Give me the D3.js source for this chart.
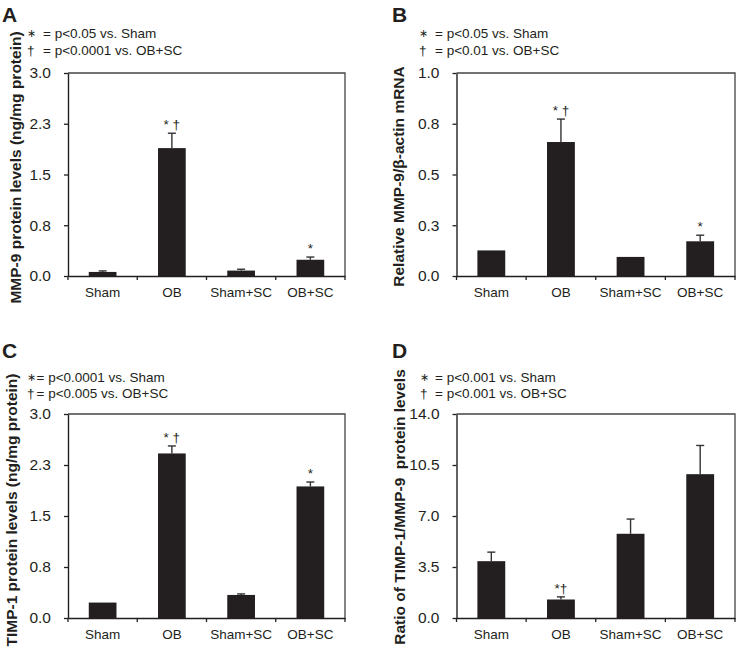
<!DOCTYPE html>
<html>
<head>
<meta charset="utf-8">
<script src="https://cdn.jsdelivr.net/npm/d3@7"></script>
<style>
  body { margin: 0; background: #fff; }
  svg { font-family: "Liberation Sans", Arial, sans-serif; }
</style>
</head>
<body>
<svg id="chart" width="736" height="649"></svg>
<script>
// groups on the x axis
const categories = ["Sham", "OB", "Sham+SC", "OB+SC"]

// A: MMP-9 protein
const mmp9Protein = [0.06, 1.89, 0.08, 0.24]
const mmp9ProteinErr = [0.015, 0.22, 0.02, 0.04]
const mmp9ProteinTicks = [0, 0.75, 1.5, 2.25, 3.0]
const mmp9ProteinMarks = ["", "* \u2020", "", "*"]
const mmp9ProteinLegend = ["= p<0.05 vs. Sham", "= p<0.0001 vs. OB+SC"]

// B: MMP-9 mRNA
const mmp9Mrna = [0.126, 0.66, 0.094, 0.171]
const mmp9MrnaErr = [0, 0.113, 0, 0.03]
const mmp9MrnaTicks = [0, 0.25, 0.5, 0.75, 1.0]
const mmp9MrnaMarks = ["", "* \u2020", "", "*"]
const mmp9MrnaLegend = ["= p<0.05 vs. Sham", "= p<0.01 vs. OB+SC"]

// C: TIMP-1 protein
const timp1Protein = [0.227, 2.42, 0.339, 1.935]
const timp1ProteinErr = [0, 0.11, 0.015, 0.065]
const timp1ProteinTicks = [0, 0.75, 1.5, 2.25, 3.0]
const timp1ProteinMarks = ["", "* \u2020", "", "*"]
const timp1ProteinLegend = ["= p<0.0001 vs. Sham", "= p<0.005 vs. OB+SC"]

// D: TIMP-1 / MMP-9 ratio
const ratio = [3.9, 1.27, 5.78, 9.87]
const ratioErr = [0.62, 0.18, 1.01, 1.97]
const ratioTicks = [0, 3.5, 7, 10.5, 14]
const ratioMarks = ["", "*\u2020", "", ""]
const ratioLegend = ["= p<0.001 vs. Sham", "= p<0.001 vs. OB+SC"]

const svg = d3.select("#chart")
const ink = "#231f20"

function translate(x, y) {
    return "translate(" + x + "," + y + ")"
}

function drawPanel(p) {
    var x = d3.scaleBand().domain(categories).range([p.left, p.right]).padding(0)
    var y = d3.scaleLinear().domain([0, p.ticks[p.ticks.length - 1]]).range([p.bottom, p.top])
    var g = svg.append("g")

    // panel letter
    g.append("text")
        .attr("x", p.letterX).attr("y", p.letterY)
        .attr("font-size", 21).attr("font-weight", "bold").attr("fill", ink)
        .text(p.letter)

    // legend lines
    p.legend.forEach((t, i) => {
        var ly = p.legendY + i * 16.7
        g.append("text")
            .attr("x", p.symX).attr("y", ly - (i == 0 ? 1 : 0))
            .attr("font-size", i == 0 ? 11 : 13.5).attr("fill", ink)
            .text(i == 0 ? "\u2217" : "\u2020")
        g.append("text")
            .attr("x", p.eqX).attr("y", ly)
            .attr("font-size", 13.5).attr("fill", ink)
            .text(t)
    })

    // frame top + right
    g.append("path")
        .attr("d", "M" + p.left + "," + p.top + "H" + p.right + "V" + p.bottom)
        .attr("fill", "none").attr("stroke", "#444").attr("stroke-width", 1.3)

    // bars
    var bw = x.bandwidth() * 0.4
    g.selectAll(".bar").data(p.values).enter().append("rect")
        .attr("x", (d, i) => x(categories[i]) + (x.bandwidth() - bw) / 2)
        .attr("y", d => y(d))
        .attr("width", bw)
        .attr("height", d => y(0) - y(d))
        .attr("fill", ink)

    // error bars (upper only)
    p.values.forEach((v, i) => {
        if (!p.errors[i]) return
        var cx = x(categories[i]) + x.bandwidth() / 2
        var e = g.append("g").attr("stroke", "#333").attr("stroke-width", 1.4)
        e.append("line").attr("x1", cx).attr("x2", cx).attr("y1", y(v)).attr("y2", y(v + p.errors[i]))
        e.append("line").attr("x1", cx - 4).attr("x2", cx + 4)
            .attr("y1", y(v + p.errors[i])).attr("y2", y(v + p.errors[i]))
    })

    // significance marks
    p.values.forEach((v, i) => {
        if (!p.marks[i]) return
        var cx = x(categories[i]) + x.bandwidth() / 2
        g.append("text")
            .attr("x", cx).attr("y", y(v + p.errors[i]) - 4)
            .attr("text-anchor", "middle").attr("font-size", 13.5).attr("fill", ink)
            .text(p.marks[i])
    })

    // y axis
    var ya = g.append("g")
        .attr("transform", translate(p.left, 0))
        .call(d3.axisLeft(y).tickValues(p.ticks).tickFormat(d3.format(".1f"))
            .tickSizeInner(4).tickSizeOuter(0).tickPadding(13))
    ya.selectAll("text").attr("font-size", 15.5).attr("fill", ink).attr("font-family", null)
    ya.selectAll("line").attr("stroke", ink).attr("stroke-width", 1.3)
    ya.select(".domain").attr("stroke", ink).attr("stroke-width", 1.4)

    // x axis: labels at band centres, ticks at band edges
    var xa = g.append("g")
        .attr("transform", translate(0, p.bottom))
        .call(d3.axisBottom(x).tickSize(0).tickPadding(11))
    xa.selectAll("text").attr("font-size", 13.5).attr("fill", ink).attr("font-family", null)
    xa.select(".domain").attr("stroke", ink).attr("stroke-width", 1.4)
    var edges = categories.map(c => x(c)).concat([p.right])
    g.selectAll(".edge").data(edges).enter().append("line")
        .attr("x1", d => d).attr("x2", d => d)
        .attr("y1", p.bottom).attr("y2", p.bottom + 4)
        .attr("stroke", ink).attr("stroke-width", 1.3)

    // y title
    g.append("text")
        .attr("transform", translate(p.titleX, (p.top + p.bottom) / 2 + p.titleDy) + " rotate(-90)")
        .attr("text-anchor", "middle")
        .attr("font-size", 15.5).attr("font-weight", "bold").attr("fill", ink)
        .style("white-space", "pre")
        .text(p.title)
}

drawPanel({
    letter: "A", letterX: 2, letterY: 22,
    left: 68, right: 345, top: 73, bottom: 276,
    values: mmp9Protein, errors: mmp9ProteinErr, ticks: mmp9ProteinTicks, marks: mmp9ProteinMarks,
    legend: mmp9ProteinLegend, legendY: 38, symX: 27, eqX: 43,
    title: "MMP-9 protein levels (ng/mg protein)", titleX: 21, titleDy: -7
})
drawPanel({
    letter: "B", letterX: 392, letterY: 22,
    left: 456.5, right: 735, top: 73, bottom: 276,
    values: mmp9Mrna, errors: mmp9MrnaErr, ticks: mmp9MrnaTicks, marks: mmp9MrnaMarks,
    legend: mmp9MrnaLegend, legendY: 38, symX: 419, eqX: 435,
    title: "Relative MMP-9/\u03b2-actin mRNA", titleX: 404, titleDy: 2
})
drawPanel({
    letter: "C", letterX: 2, letterY: 358,
    left: 68, right: 345, top: 414, bottom: 618,
    values: timp1Protein, errors: timp1ProteinErr, ticks: timp1ProteinTicks, marks: timp1ProteinMarks,
    legend: timp1ProteinLegend, legendY: 381.5, symX: 27, eqX: 36.5,
    title: "TIMP-1 protein levels (ng/mg protein)", titleX: 17, titleDy: -6
})
drawPanel({
    letter: "D", letterX: 392, letterY: 358,
    left: 456.5, right: 735, top: 414, bottom: 618,
    values: ratio, errors: ratioErr, ticks: ratioTicks, marks: ratioMarks,
    legend: ratioLegend, legendY: 381.5, symX: 420, eqX: 435,
    title: "Ratio of TIMP-1/MMP-9  protein levels", titleX: 405, titleDy: -9
})
</script>
</body>
</html>
